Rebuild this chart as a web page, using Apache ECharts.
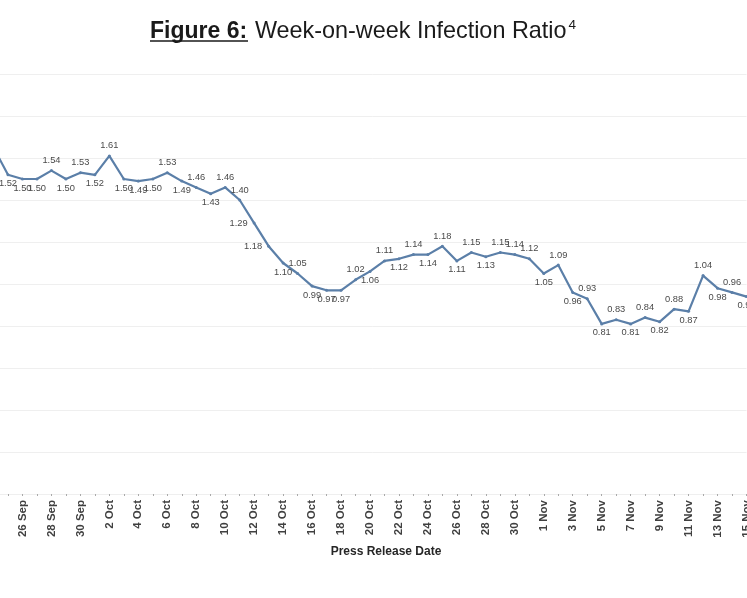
<!DOCTYPE html>
<html>
<head>
<meta charset="utf-8">
<script src="https://cdn.jsdelivr.net/npm/echarts@6/dist/echarts.min.js"></script>
<style>html,body{margin:0;padding:0;background:#fff;}#c{width:747px;height:598px;}</style>
</head>
<body>
<div id="c"></div>
<script>
const categories = ['24 Sep','25 Sep','26 Sep','27 Sep','28 Sep','29 Sep','30 Sep',
  '1 Oct','2 Oct','3 Oct','4 Oct','5 Oct','6 Oct','7 Oct','8 Oct','9 Oct','10 Oct',
  '11 Oct','12 Oct','13 Oct','14 Oct','15 Oct','16 Oct','17 Oct','18 Oct','19 Oct','20 Oct',
  '21 Oct','22 Oct','23 Oct','24 Oct','25 Oct','26 Oct','27 Oct','28 Oct','29 Oct','30 Oct','31 Oct',
  '1 Nov','2 Nov','3 Nov','4 Nov','5 Nov','6 Nov','7 Nov','8 Nov','9 Nov','10 Nov',
  '11 Nov','12 Nov','13 Nov','14 Nov','15 Nov'];
const ratio = [1.65,1.52,1.50,1.50,1.54,1.50,1.53,
  1.52,1.61,1.50,1.49,1.50,1.53,1.49,1.46,1.43,1.46,
  1.40,1.29,1.18,1.10,1.05,0.99,0.97,0.97,1.02,1.06,
  1.11,1.12,1.14,1.14,1.18,1.11,1.15,1.13,1.15,1.14,1.12,
  1.05,1.09,0.96,0.93,0.81,0.83,0.81,0.84,0.82,0.88,
  0.87,1.04,0.98,0.96,0.94];
const yTicks = [0, 2.0, 0.2];

function labelPos(i) {
  if (i === 0) return 'left';
  if (i === ratio.length - 1) return 'bottom';
  const p = ratio[i - 1], n = ratio[i + 1], v = ratio[i];
  if (Math.abs(n - p) >= 0.18) return 'left';
  return v >= (p + n) / 2 - 1e-9 ? 'top' : 'bottom';
}
const seriesData = ratio.map((v, i) => {
  const pos = labelPos(i);
  return { value: v, label: { position: pos, distance: pos === 'top' ? 4 : (pos === 'left' ? 5 : 3) } };
});

const chart = echarts.init(document.getElementById('c'));
chart.setOption({
  animation: false,
  backgroundColor: '#ffffff',
  title: {
    left: 150, top: 18, padding: 0,
    text: '{b|Figure 6:}{sp| }{n|Week-on-week Infection Ratio}{s|4}',
    textStyle: {
      rich: {
        b: { fontFamily: 'Liberation Sans', fontSize: 23, fontWeight: 'bold', color: '#1a1a1a' },
        sp: { fontFamily: 'Liberation Sans', fontSize: 28, fontWeight: 'normal', color: '#1a1a1a' },
        n: { fontFamily: 'Liberation Sans', fontSize: 23.4, fontWeight: 'normal', color: '#1a1a1a' },
        s: { fontFamily: 'Liberation Sans', fontSize: 13.5, fontWeight: 'normal', color: '#1a1a1a', verticalAlign: 'top', lineHeight: 26, padding: [0, 0, 0, 2] }
      }
    }
  },
  graphic: [{
    type: 'line', shape: { x1: 150, y1: 41, x2: 248, y2: 41 },
    style: { stroke: '#1a1a1a', lineWidth: 1.5 }
  }],
  grid: { left: -6.5, right: 0.5, top: 74, bottom: 104, containLabel: false, outerBoundsMode: 'none' },
  xAxis: {
    type: 'category', data: categories, boundaryGap: false,
    axisLine: { show: false },
    axisTick: { show: true, interval: 0, length: 2, lineStyle: { color: '#aaaaaa' } },
    axisLabel: {
      interval: 1, rotate: 90, margin: 6,
      fontFamily: 'Liberation Sans', fontSize: 11.5, fontWeight: 'bold', color: '#404040'
    },
    name: 'Press Release Date', nameLocation: 'middle', nameGap: 46,
    nameTextStyle: { fontFamily: 'Liberation Sans', fontSize: 12, fontWeight: 'bold', color: '#262626', padding: [0, 0, 0, 32] }
  },
  yAxis: {
    type: 'value', min: yTicks[0], max: yTicks[1], interval: yTicks[2],
    axisLabel: { show: false }, axisLine: { show: false }, axisTick: { show: false },
    splitLine: { lineStyle: { color: '#efefef', width: 1 } }
  },
  series: [{
    type: 'line', data: seriesData,
    lineStyle: { color: '#5b7fa8', width: 2.2 },
    itemStyle: { color: '#5b7fa8' },
    symbol: 'circle', symbolSize: 3, showSymbol: true,
    label: {
      show: true, fontFamily: 'Liberation Sans', fontSize: 9.3, color: '#4a4a4a',
      formatter: p => p.value.toFixed(2)
    }
  }]
});
</script>
</body>
</html>
